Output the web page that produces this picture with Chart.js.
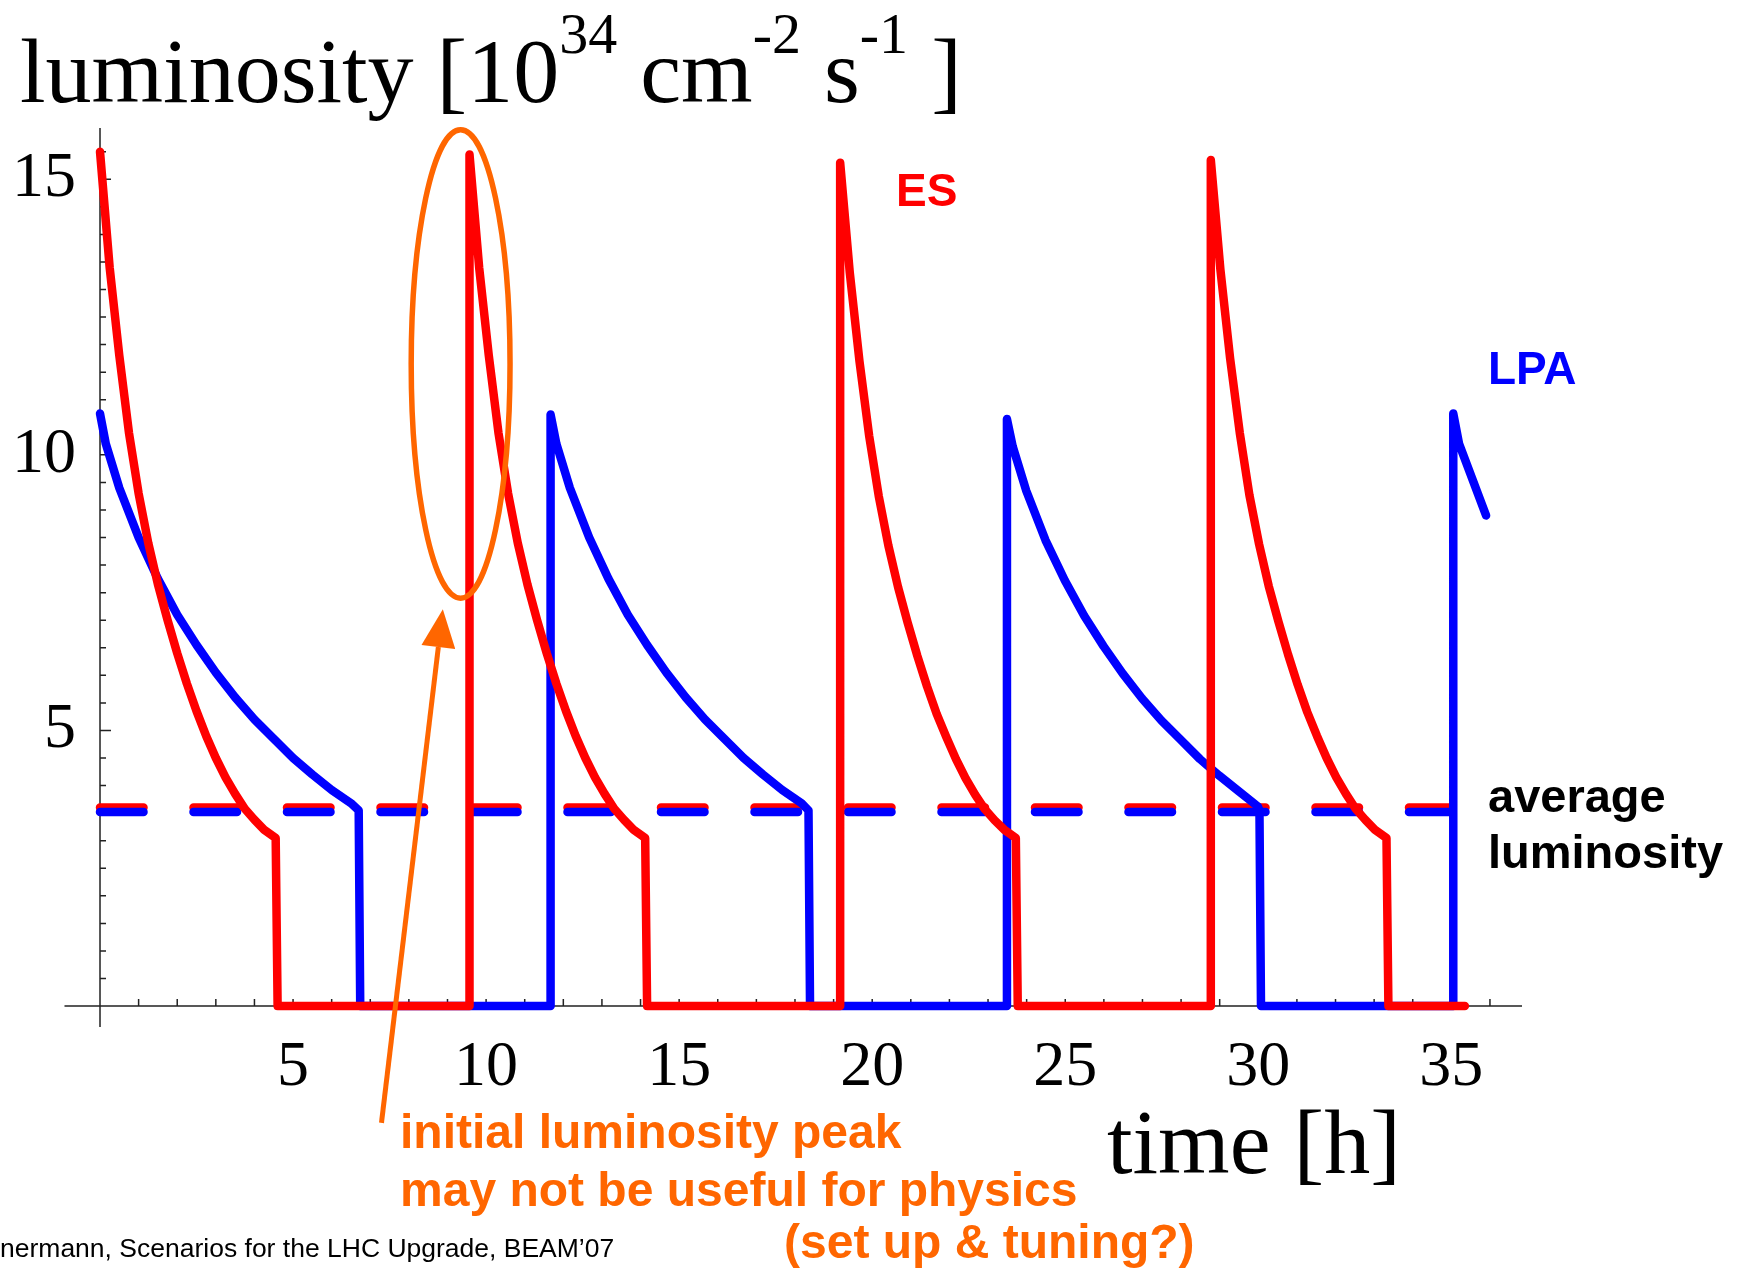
<!DOCTYPE html>
<html>
<head>
<meta charset="utf-8">
<script src="https://cdn.jsdelivr.net/npm/chart.js@4.4.1/dist/chart.umd.min.js"></script>
<style>
  html, body { margin: 0; padding: 0; background: #fff; }
  #page { position: relative; width: 1744px; height: 1272px; overflow: hidden; }
  #chart-lumi { position: absolute; left: 0; top: 0; }
  .txt { position: absolute; white-space: nowrap; margin: 0; }
  .serif { font-family: "Liberation Serif", "Times New Roman", serif; color: #000; }
  .sans { font-family: "Liberation Sans", Arial, sans-serif; font-weight: bold; }
  #ytitle { left: 20px; top: 25px; font-size: 92px; line-height: 92px; }
  #ytitle sup { font-size: 58px; vertical-align: baseline; position: relative; top: -49px; }
  #xtitle { left: 1107px; top: 1096px; font-size: 92px; line-height: 92px; }
  #lbl-es { left: 896px; top: 167px; font-size: 46px; line-height: 46px; color: #ff0000; }
  #lbl-lpa { left: 1488px; top: 345px; font-size: 46px; line-height: 46px; color: #0000ff; }
  #lbl-avg { left: 1488px; top: 768px; font-size: 47px; line-height: 56px; color: #000; }
  #note1 { left: 400px; top: 1103px; font-size: 48px; line-height: 58px; color: #ff6600; }
  #note2 { left: 784px; top: 1213px; font-size: 48px; line-height: 58px; color: #ff6600; }
  #footer { left: 0px; top: 1235px; font-family: "Liberation Sans", Arial, sans-serif; font-size: 26.5px; line-height: 26px; color: #000; }
</style>
</head>
<body>
<div id="page">
  <canvas id="chart-lumi" width="1744" height="1272"></canvas>
  <div class="txt serif" id="ytitle">luminosity [10<sup>34</sup> cm<sup>-2</sup> s<sup>-1</sup> ]</div>
  <div class="txt serif" id="xtitle">time [h]</div>
  <div class="txt sans" id="lbl-es">ES</div>
  <div class="txt sans" id="lbl-lpa">LPA</div>
  <div class="txt sans" id="lbl-avg">average<br>luminosity</div>
  <div class="txt sans" id="note1">initial luminosity peak<br>may not be useful for physics</div>
  <div class="txt sans" id="note2">(set up &amp; tuning?)</div>
  <div class="txt" id="footer">nermann, Scenarios for the LHC Upgrade, BEAM’07</div>
</div>
<script>
// ES (early separation) luminosity: time [h] / lumi [1e34]
var esTime = [
  0, 0.25, 0.5, 0.75, 1, 1.25, 1.5, 1.75, 2, 2.25, 2.5, 2.75, 3, 3.25, 3.5, 3.75, 4, 4.25, 4.55, 4.6,
  9.57, 9.57, 9.82, 10.07, 10.32, 10.57, 10.82, 11.07, 11.32, 11.57, 11.82, 12.07, 12.32, 12.57, 12.82, 13.07, 13.32, 13.57, 13.82, 14.12, 14.17,
  19.17, 19.17, 19.42, 19.67, 19.92, 20.17, 20.42, 20.67, 20.92, 21.17, 21.42, 21.67, 21.92, 22.17, 22.42, 22.67, 22.92, 23.17, 23.42, 23.72, 23.77,
  28.77, 28.77, 29.02, 29.27, 29.52, 29.77, 30.02, 30.27, 30.52, 30.77, 31.02, 31.27, 31.52, 31.77, 32.02, 32.27, 32.52, 32.77, 33.02, 33.32, 33.37,
  35.35
];
var esLum = [
  15.5, 13.4, 11.8, 10.4, 9.3, 8.4, 7.65, 7.0, 6.4, 5.85, 5.35, 4.9, 4.5, 4.15, 3.85, 3.58, 3.38, 3.2, 3.05, 0,
  0, 15.45, 13.4, 11.8, 10.4, 9.3, 8.4, 7.65, 7.0, 6.4, 5.85, 5.35, 4.9, 4.5, 4.15, 3.85, 3.58, 3.38, 3.2, 3.05, 0,
  0, 15.3, 13.3, 11.7, 10.35, 9.25, 8.35, 7.6, 6.95, 6.35, 5.8, 5.3, 4.88, 4.48, 4.13, 3.83, 3.57, 3.37, 3.2, 3.05, 0,
  0, 15.35, 13.35, 11.75, 10.4, 9.27, 8.38, 7.62, 6.98, 6.38, 5.83, 5.33, 4.9, 4.5, 4.15, 3.85, 3.58, 3.38, 3.2, 3.05, 0,
  0
];

// LPA (large Piwinski angle) luminosity
var lpaTime = [
  0, 0.15, 0.5, 1, 1.5, 2, 2.5, 3, 3.5, 4, 4.5, 5, 5.5, 6, 6.5, 6.7, 6.74,
  11.67, 11.67, 11.82, 12.17, 12.67, 13.17, 13.67, 14.17, 14.67, 15.17, 15.67, 16.17, 16.67, 17.17, 17.67, 18.17, 18.35, 18.39,
  23.49, 23.49, 23.64, 23.99, 24.49, 24.99, 25.49, 25.99, 26.49, 26.99, 27.49, 27.99, 28.49, 28.99, 29.49, 29.99, 30.03, 30.07,
  35.05, 35.05, 35.2, 35.9
];
var lpaLum = [
  10.75, 10.2, 9.4, 8.5, 7.75, 7.1, 6.55, 6.05, 5.6, 5.2, 4.85, 4.5, 4.2, 3.92, 3.68, 3.55, 0,
  0, 10.73, 10.2, 9.4, 8.5, 7.75, 7.1, 6.55, 6.05, 5.6, 5.2, 4.85, 4.5, 4.2, 3.92, 3.68, 3.55, 0,
  0, 10.65, 10.15, 9.35, 8.45, 7.72, 7.08, 6.53, 6.03, 5.58, 5.18, 4.83, 4.48, 4.18, 3.9, 3.62, 3.55, 0,
  0, 10.75, 10.2, 8.9
];

// average luminosity (dashed)
var avgTime = [0, 35.2];
var esAvg = 3.6;
var lpaAvg = 3.52;

// axis ticks
var xTickLabels = [5, 10, 15, 20, 25, 30, 35];
var yTickLabels = [5, 10, 15];
var xAxisFrom = -0.92;   // x axis line sticks out left of the origin

// orange annotation, in data units
var peakRing = { t: 9.34, lum: 11.65, halfT: 1.28, halfLum: 4.25 };
var arrowFrom = { t: 7.29, lum: -2.12 };
var arrowTo = { t: 8.88, lum: 7.2 };

function toPoints(xs, ys) {
  return xs.map(function (x, i) { return { x: x, y: ys[i] }; });
}

// axis lines through the origin, ticks pointing inward
var axesThroughZero = {
  id: 'axesThroughZero',
  beforeDatasetsDraw: function (chart) {
    var ctx = chart.ctx;
    var xs = chart.scales.x, ys = chart.scales.y;
    var x0 = xs.getPixelForValue(0), y0 = ys.getPixelForValue(0);
    ctx.save();
    ctx.strokeStyle = '#222';
    ctx.lineWidth = 1.5;
    ctx.beginPath();
    ctx.moveTo(xs.getPixelForValue(xAxisFrom), y0); ctx.lineTo(xs.right, y0);
    ctx.moveTo(x0, ys.top); ctx.lineTo(x0, ys.bottom);
    for (var t = 1; t <= 36; t++) {
      var px = xs.getPixelForValue(t);
      ctx.moveTo(px, y0); ctx.lineTo(px, y0 - 7);
    }
    for (var v = 0.5; v <= 15.5; v += 0.5) {
      var py = ys.getPixelForValue(v);
      ctx.moveTo(x0, py); ctx.lineTo(x0 + (v % 5 === 0 ? 11 : 6), py);
    }
    ctx.stroke();
    ctx.restore();
  }
};

var peakNote = {
  id: 'peakNote',
  afterDatasetsDraw: function (chart) {
    var ctx = chart.ctx;
    var xs = chart.scales.x, ys = chart.scales.y;
    var cx = xs.getPixelForValue(peakRing.t), cy = ys.getPixelForValue(peakRing.lum);
    var rx = xs.getPixelForValue(peakRing.t + peakRing.halfT) - cx;
    var ry = cy - ys.getPixelForValue(peakRing.lum + peakRing.halfLum);
    ctx.save();
    ctx.strokeStyle = '#ff6600';
    ctx.fillStyle = '#ff6600';
    ctx.lineWidth = 5.5;
    ctx.beginPath();
    ctx.ellipse(cx, cy, rx, ry, 0, 0, Math.PI * 2);
    ctx.stroke();

    var ax = xs.getPixelForValue(arrowFrom.t), ay = ys.getPixelForValue(arrowFrom.lum);
    var bx = xs.getPixelForValue(arrowTo.t), by = ys.getPixelForValue(arrowTo.lum);
    var len = Math.hypot(bx - ax, by - ay);
    var ux = (bx - ax) / len, uy = (by - ay) / len;
    var headLen = 38, headHalf = 17;
    var hx = bx - ux * headLen, hy = by - uy * headLen;
    ctx.lineWidth = 5;
    ctx.beginPath();
    ctx.moveTo(ax, ay); ctx.lineTo(hx, hy);
    ctx.stroke();
    ctx.beginPath();
    ctx.moveTo(bx, by);
    ctx.lineTo(hx - uy * headHalf, hy + ux * headHalf);
    ctx.lineTo(hx + uy * headHalf, hy - ux * headHalf);
    ctx.closePath();
    ctx.fill();
    ctx.restore();
  }
};

var ctx = document.getElementById('chart-lumi').getContext('2d');
var chartLumi = new Chart(ctx, {
  type: 'line',
  data: {
    datasets: [
      {
        label: 'ES',
        data: toPoints(esTime, esLum),
        borderColor: '#ff0000',
        borderWidth: 8.5,
        order: 1
      },
      {
        label: 'LPA',
        data: toPoints(lpaTime, lpaLum),
        borderColor: '#0000ff',
        borderWidth: 8.5,
        order: 2
      },
      {
        label: 'LPA average',
        data: toPoints(avgTime, [lpaAvg, lpaAvg]),
        borderColor: '#0000ff',
        borderWidth: 8.5,
        borderDash: [43.5, 50],
        order: 3
      },
      {
        label: 'ES average',
        data: toPoints(avgTime, [esAvg, esAvg]),
        borderColor: '#ff0000',
        borderWidth: 8.5,
        borderDash: [43.5, 50],
        order: 4
      }
    ]
  },
  options: {
    responsive: false,
    animation: false,
    devicePixelRatio: 1,
    layout: { padding: { left: 0, top: 128, right: 222, bottom: 0 } },
    elements: {
      point: { radius: 0 },
      line: { tension: 0, fill: false, borderCapStyle: 'round', borderJoinStyle: 'round' }
    },
    datasets: { line: { clip: false } },
    plugins: {
      legend: { display: false },
      tooltip: { enabled: false },
      title: { display: false }
    },
    scales: {
      x: {
        type: 'linear',
        min: -0.57,
        max: 36.83,
        grid: { display: false },
        border: { display: false },
        afterBuildTicks: function (s) { s.ticks = xTickLabels.map(function (v) { return { value: v }; }); },
        afterFit: function (s) { s.height = 245; },
        ticks: {
          autoSkip: false,
          maxRotation: 0,
          padding: -5,
          color: '#000',
          font: { family: '"Liberation Serif", "Times New Roman", serif', size: 64 }
        }
      },
      y: {
        type: 'linear',
        min: -0.38,
        max: 15.93,
        grid: { display: false, drawTicks: false },
        border: { display: false },
        afterBuildTicks: function (s) { s.ticks = yTickLabels.map(function (v) { return { value: v }; }); },
        afterFit: function (s) { s.width = 78; },
        ticks: {
          autoSkip: false,
          padding: 2,
          color: '#000',
          font: { family: '"Liberation Serif", "Times New Roman", serif', size: 64 }
        }
      }
    }
  },
  plugins: [axesThroughZero, peakNote]
});
</script>
</body>
</html>
